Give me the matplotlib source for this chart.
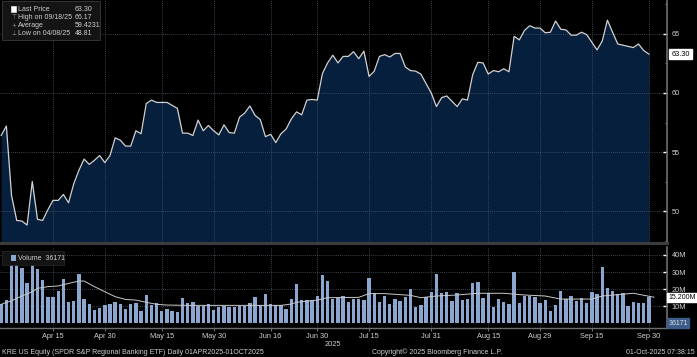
import numpy as np
import matplotlib
matplotlib.use('Agg')
import matplotlib.pyplot as plt
from matplotlib.patches import Rectangle

W, H = 697, 357

# trading-day index positions of the date labels
tick_idx = [10, 20, 31, 41, 52, 61, 71, 83, 94, 104, 114, 125]
tick_labels = ['Apr 15', 'Apr 30', 'May 15', 'May 30', 'Jun 16', 'Jun 30',
               'Jul 15', 'Jul 31', 'Aug 15', 'Aug 29', 'Sep 15', 'Sep 30']

# KRE close, 01APR2025 - 30SEP2025
price = [56.4, 57.2, 51.3, 49.2, 49.15, 48.81, 52.5, 49.3, 49.2, 50.1,
         50.9, 50.9, 51.4, 50.7, 52.3, 53.45, 54.4, 53.95, 54.3, 54.7,
         54.1, 54.7, 56.2, 56.0, 55.5, 55.5, 56.8, 56.55, 59.1, 59.4,
         59.2, 59.2, 59.2, 58.95, 58.7, 56.6, 56.6, 56.4, 57.7, 56.8,
         57.25, 56.8, 56.45, 57.3, 56.65, 56.6, 57.95, 58.3, 58.9, 58.1,
         57.75, 56.3, 56.5, 55.8, 56.55, 56.95, 57.8, 58.4, 58.15, 59.4,
         59.45, 59.4, 61.65, 62.55, 63.2, 62.55, 63.1, 63.1, 63.5, 62.9,
         63.55, 61.4, 61.85, 63.1, 63.25, 63.05, 63.35, 63.35, 62.2, 61.9,
         61.85, 61.6, 60.8, 60.0, 58.85, 59.6, 59.75, 59.3, 58.85, 59.5,
         59.4, 61.55, 62.6, 62.55, 61.6, 61.9, 61.8, 62.05, 61.8, 64.8,
         64.5, 65.3, 65.7, 65.5, 65.5, 65.1, 65.15, 66.1, 65.4, 65.35,
         64.9, 64.9, 65.15, 64.95, 64.3, 63.65, 64.4, 66.17, 65.15, 64.15,
         64.05, 63.95, 63.85, 64.15, 63.6, 63.3]

# daily volume, millions
volume = [11.0, 13.5, 42, 40, 32.2, 23.7, 37, 31.6, 25.3, 15.5,
          15.1, 19.0, 25.9, 12.2, 13.1, 28.8, 13.9, 11.2, 7.6, 9.0,
          10.6, 11.0, 12.2, 11.2, 8.0, 11.0, 11.6, 7.1, 16.5, 10.6,
          11.6, 7.1, 8.0, 7.1, 6.3, 14.5, 12.0, 12.5, 10.0, 10.0,
          11.2, 7.6, 9.2, 10.0, 9.6, 9.6, 10.0, 10.2, 11.6, 15.5,
          10.6, 16.9, 11.0, 10.6, 10.6, 8.2, 13.9, 22.7, 13.5, 13.5,
          13.5, 15.9, 28.2, 24.7, 14.1, 14.9, 15.9, 12.2, 14.1, 14.1,
          13.5, 26.3, 17.5, 12.5, 15.9, 11.0, 13.9, 13.1, 15.1, 19.8,
          9.2, 10.6, 15.5, 18.4, 28.6, 17.5, 18.4, 13.1, 17.5, 13.5,
          13.9, 23.3, 23.9, 14.5, 17.8, 9.2, 13.9, 12.5, 11.2, 29.8,
          12.0, 16.1, 16.1, 15.5, 11.6, 13.5, 7.3, 10.6, 19.0, 14.1,
          15.9, 13.1, 14.5, 12.0, 18.4, 17.1, 33.1, 20.4, 19.0, 17.1,
          17.8, 10.0, 12.5, 11.6, 11.6, 15.5]

# volume moving average line (read at sample points)
ma_idx = [0, 2, 4, 6, 7, 9, 11, 13, 15, 16, 18, 20, 22, 24, 26, 28, 30, 32,
          36, 45, 54, 56, 57, 59, 61, 63, 69, 71, 74, 79, 81, 84, 88, 92, 97,
          101, 105, 108, 114, 116, 122, 126]
ma_vals = [11.0, 13.1, 15.9, 18.4, 20.4, 21.4, 21.8, 23.3, 24.7, 24.7, 21.4,
           18.4, 15.5, 13.9, 13.5, 12.2, 11.0, 10.6, 10.4, 10.4, 10.4, 11.2,
           12.2, 12.9, 13.5, 14.9, 15.1, 17.3, 17.3, 16.3, 14.9, 15.9, 16.5,
           17.5, 17.5, 16.5, 15.9, 14.1, 14.1, 15.9, 17.5, 15.2]

BG = 'black'
FILL = '#061f3d'
LINE = '#d2d2d2'
GRID = '#4b5866'
TXT = '#d0d0d0'
BAR = '#8ba7cf'
FS = 5        # legend, tags, footer
FT = 5.3      # axis tick labels

plt.rcParams['font.family'] = ['Liberation Sans', 'DejaVu Sans']
plt.rcParams['font.size'] = FS

fig = plt.figure(figsize=(W / 100, H / 100), dpi=100, facecolor=BG)


def fx(px):
    return px / W


def fy(py):
    return 1 - py / H


x = np.arange(len(price))
xlim = (-0.23, 128.5)

# ---- price panel
ax = fig.add_axes([0, fy(243), fx(667), fy(0) - fy(243)])
ax.set_facecolor(BG)
ax.fill_between(x, price, 40, color=FILL, lw=0)
ax.plot(x, price, color=LINE, lw=0.9)
ax.set_xlim(*xlim)
ax.set_ylim(47.29, 67.88)
ax.yaxis.tick_right()
ax.set_yticks([50, 55, 60, 65])
ax.set_yticks([47.5, 52.5, 57.5, 62.5, 67.5], minor=True)
ax.set_xticks(tick_idx)
ax.tick_params(axis='y', which='major', direction='in', length=3, width=1,
               colors='white', labelcolor=TXT, pad=3.5, labelsize=FT)
ax.tick_params(axis='y', which='minor', direction='in', length=1.5,
               width=0.8, colors='#888888')
ax.tick_params(axis='x', length=0, labelbottom=False)
ax.grid(True, color=GRID, ls=(0, (1, 1.5)), lw=0.6)
for s in ['top', 'left']:
    ax.spines[s].set_visible(False)
ax.spines['right'].set_color('#6e6e6e')
ax.spines['right'].set_linewidth(1.2)
ax.spines['bottom'].set_color('#3c3c3c')
ax.spines['bottom'].set_linewidth(2.2)

# last price tag
ax.annotate('63.30', xy=(1.0, price[-1]), xycoords=('axes fraction', 'data'),
            xytext=(3, 0), textcoords='offset points', va='center', ha='left',
            color='black', fontsize=FT,
            bbox=dict(boxstyle='square,pad=0.25', fc='white', ec='white'),
            annotation_clip=False)

# legend box
fig.patches.append(Rectangle((fx(2), fy(40)), fx(98), fy(1) - fy(40),
                             transform=fig.transFigure, fc='#141414',
                             ec='#3a3a3a', lw=0.6))
fig.patches.append(Rectangle((fx(11), fy(12)), fx(5), fy(6) - fy(12),
                             transform=fig.transFigure, fc='white',
                             ec='white', lw=0.4))
rows = [('Last Price', '63.30', ''), ('High on 09/18/25', '66.17', '⊤'),
        ('Average', '59.4231', '+'), ('Low on 04/08/25', '48.81', '⊥')]
for k, (lab, val, sym) in enumerate(rows):
    yy = fy(9.3 + 8 * k)
    fig.text(fx(18), yy, lab, color=TXT, va='center', ha='left', fontsize=FS)
    fig.text(fx(75), yy, val, color=TXT, va='center', ha='left', fontsize=FS)
    if sym:
        fig.text(fx(13.5), yy, sym, color='#9a9a9a', va='center',
                 ha='center', fontsize=4, family='DejaVu Sans')

# ---- volume panel
axv = fig.add_axes([0, fy(328), fx(667), fy(247) - fy(328)])
axv.set_facecolor(BG)
axv.bar(x, volume, width=0.65, color=BAR, lw=0)
axv.plot(ma_idx, ma_vals, color='#c8c8c8', lw=0.7)
axv.set_xlim(*xlim)
axv.set_ylim(-2.9, 44.7)
axv.yaxis.tick_right()
axv.set_yticks([10, 20, 30, 40])
axv.set_yticklabels(['10M', '20M', '30M', '40M'])
axv.set_xticks(tick_idx)
axv.set_xticklabels(tick_labels)
axv.tick_params(axis='y', direction='in', length=3, width=1, colors='white',
                labelcolor=TXT, pad=3.5, labelsize=FT)
axv.tick_params(axis='x', direction='out', length=2, width=0.6,
                colors='#888888', labelcolor=TXT, pad=1.5, labelsize=FT)
axv.grid(True, color=GRID, ls=(0, (1, 1.5)), lw=0.6)
axv.set_axisbelow(True)
for s in ['top', 'left']:
    axv.spines[s].set_visible(False)
axv.spines['right'].set_color('#6e6e6e')
axv.spines['right'].set_linewidth(1.2)
axv.spines['bottom'].set_color('#6e6e6e')
axv.spines['bottom'].set_linewidth(1.0)

axv.annotate('15.200M', xy=(1.0, 15.2), xycoords=('axes fraction', 'data'),
             xytext=(1, 0), textcoords='offset points', va='center',
             ha='left', color='black', fontsize=FS,
             bbox=dict(boxstyle='square,pad=0.15', fc='white', ec='white'),
             annotation_clip=False)
axv.annotate('36171', xy=(1.0, 0), xycoords=('axes fraction', 'data'),
             xytext=(1, 0), textcoords='offset points', va='center',
             ha='left', color='#e0e0e0', fontsize=FS,
             bbox=dict(boxstyle='square,pad=0.2', fc='#3d5c8c',
                       ec='#3d5c8c'),
             annotation_clip=False)

fig.patches.append(Rectangle((fx(2), fy(265)), fx(62), fy(251) - fy(265),
                             transform=fig.transFigure, fc='#141414',
                             ec='#2a2a2a', lw=0.5))
fig.patches.append(Rectangle((fx(11), fy(261)), fx(5), fy(255) - fy(261),
                             transform=fig.transFigure, fc=BAR, lw=0))
fig.text(fx(18), fy(258), 'Volume  36171', color=TXT, va='center',
         ha='left', fontsize=FS)

# year label and footer
fig.text(fx(333), fy(345), '2025', color=TXT, ha='center', va='center',
         fontsize=FT)
fig.text(fx(2), fy(352), 'KRE US Equity (SPDR S&P Regional Banking ETF) '
         'Daily 01APR2025-01OCT2025', color=TXT, ha='left', va='center',
         fontsize=FS)
fig.text(fx(372), fy(352), 'Copyright© 2025 Bloomberg Finance L.P.',
         color=TXT, ha='left', va='center', fontsize=FS)
fig.text(fx(695), fy(352), '01-Oct-2025 07:38:15', color=TXT, ha='right',
         va='center', fontsize=FS)

fig.savefig('out.png', dpi=100, facecolor=BG)
